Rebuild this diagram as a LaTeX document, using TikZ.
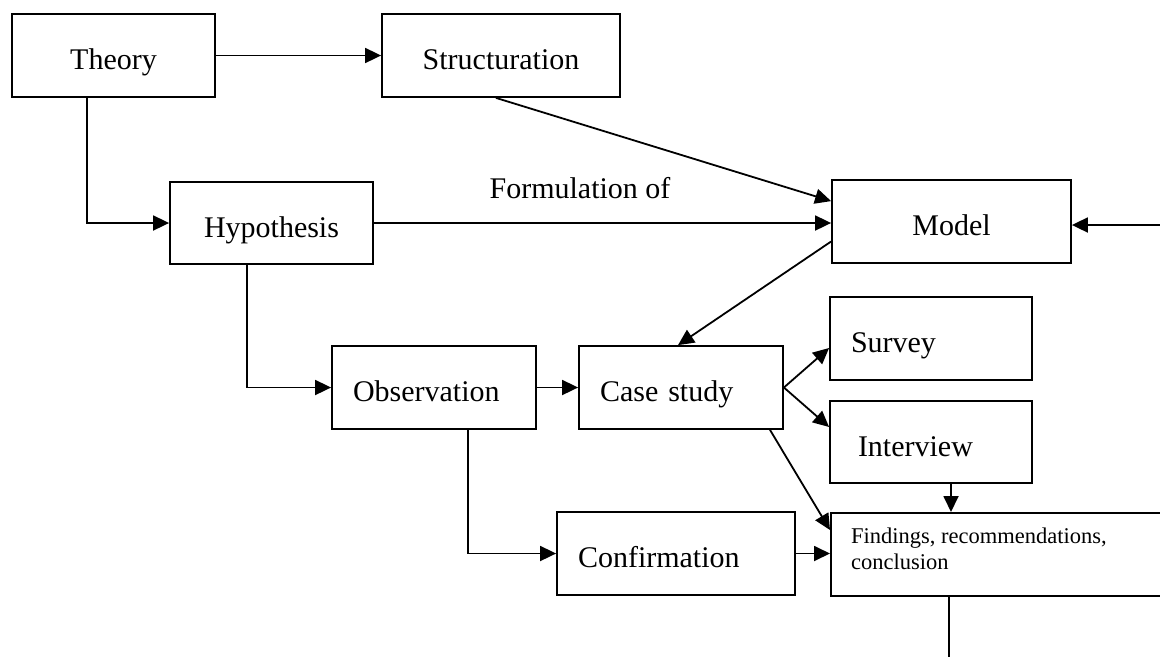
\documentclass[tikz,border=0pt]{standalone}
\usepackage{fontspec}
\setmainfont{Liberation Serif}
\usetikzlibrary{arrows.meta,calc}
\begin{document}
\begin{tikzpicture}[x=1pt,y=-1pt,
  font=\fontsize{30}{36}\selectfont,
  box/.style={draw, line width=1.8pt, inner xsep=0pt, inner ysep=0pt, text height=28pt, text depth=0pt, minimum height=83pt},
  cbox/.style={box, align=center},
  lbox/.style={box, inner xsep=21pt, align=left},
  conn/.style={line width=1.8pt},
  arr/.style={conn, -{Triangle[length=16pt,width=15pt]}}]
\useasboundingbox (0,0) rectangle (1160,657);
\clip (0,0) rectangle (1160,657);

% boxes
\node[cbox, minimum width=203pt] (theory) at (113.5,55.5) {Theory};
\node[cbox, minimum width=238pt] (struct) at (501,55.5) {Structuration};
\node[cbox, minimum width=203pt, minimum height=82pt] (hyp) at (271.5,223) {Hypothesis};
\node[cbox, minimum width=239pt] (model) at (951.5,221.5) {Model};
\node[lbox, text width=160pt] (survey) at (931,338.5) {Survey};
\node[lbox, text width=162pt] (obs) at (434,387.5) {Observation};
\node[lbox, text width=162pt] (case) at (681,387.5) {Case study};
\node[lbox, text width=160pt, minimum height=82pt] (interview) at (931,442) {\hspace*{7pt}Interview};
\node[lbox, text width=196pt] (confirm) at (676,553.5) {Confirmation};
\node[box, minimum width=400pt, anchor=north west] (findings) at (830,512) {};
\node[anchor=north west, inner sep=0pt, align=left, font=\fontsize{22.5}{26}\selectfont]
  (findtext) at ([shift={(21pt,-16pt)}]findings.north west) {Findings, recommendations,\\conclusion};

% label
\node[anchor=base, inner sep=0pt] (formlabel) at (580,198) {Formulation of};

% connectors
\draw[arr] (theory.east) -- (struct.west);
\draw[arr] ([xshift=-26.5pt]theory.south) |- (hyp.west);
\draw[arr] ([xshift=-5pt]struct.south) -- ([yshift=-22pt]model.north west);
\draw[arr] (hyp.east) -- (model.west |- hyp.east);
\draw[arr] ([yshift=-20pt]model.west) -- ([xshift=-3pt]case.north);
\coordinate (rin) at (1160,225);
\draw[arr] (rin) -- (rin -| model.east);
\draw[arr] ([xshift=-24.5pt]hyp.south) |- (obs.west);
\draw[arr] (obs.east) -- (case.west);
\draw[arr] ([xshift=34pt]obs.south) |- (confirm.west);
\draw[arr] (case.east) -- ([yshift=-9.5pt]survey.west);
\draw[arr] (case.east) -- ([yshift=15pt]interview.west);
\draw[arr] ([xshift=89pt]case.south) -- ([yshift=-18pt]findings.north west);
\draw[arr] ([xshift=20pt]interview.south) -- ([xshift=20pt]interview.south |- findings.north);
\draw[arr] (confirm.east) -- (findings.west |- confirm.east);
\coordinate (fout) at (949,657);
\draw[conn] (fout |- findings.south) -- (fout);
\end{tikzpicture}
\end{document}
